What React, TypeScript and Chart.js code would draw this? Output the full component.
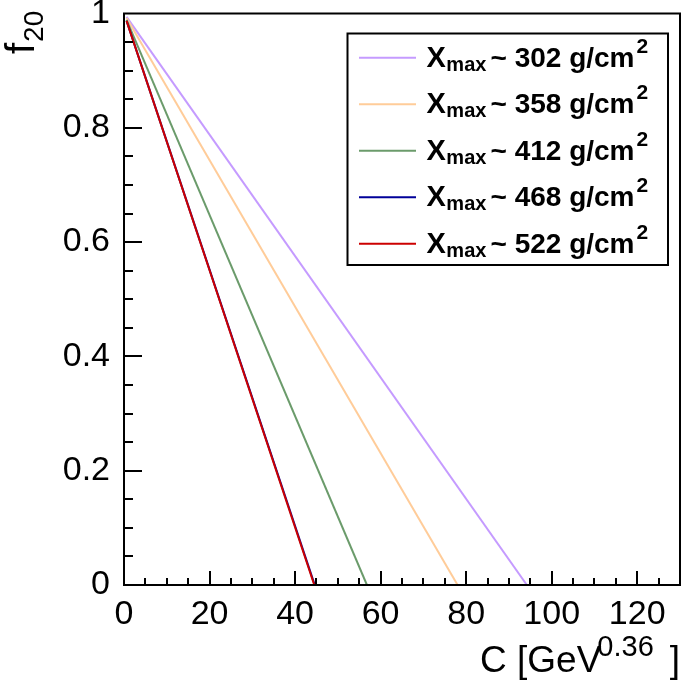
import { useEffect, useRef } from "react";
import { Chart, registerables } from "chart.js";

Chart.register(...registerables);

// ---- data ----
const xmaxLabels = ["302", "358", "412", "468", "522"];
const seriesColors = ["#c59bff", "#ffcc99", "#6b9b6b", "#000099", "#cc0000"];
const startC = [0.6, 0.6, 0.6, 0.6, 0.6];
const startF = [0.994, 0.992, 0.989, 0.987, 0.987];
const endC = [94.2, 78.0, 56.8, 44.6, 44.5];
const endF = [0, 0, 0, 0, 0];

const xMajorTicks = [0, 20, 40, 60, 80, 100, 120];
const xMinorStep = 5;
const yMajorTicks = [0, 0.2, 0.4, 0.6, 0.8, 1];
const yMinorStep = 0.05;
const xRange = [0, 130];
const yRange = [0, 1];

const FONT = "'Liberation Sans', Arial, Helvetica, sans-serif";

const decorPlugin = {
  id: "rootDecor",
  afterDraw(chart: any) {
    const ctx = chart.ctx as CanvasRenderingContext2D;
    const { left, right, top, bottom } = chart.chartArea;
    const xs = chart.scales.x;
    const ys = chart.scales.y;
    ctx.save();
    ctx.strokeStyle = "#000";
    ctx.fillStyle = "#000";
    ctx.lineWidth = 2;
    // frame
    ctx.strokeRect(left, top, right - left, bottom - top);
    // x ticks (inward)
    ctx.beginPath();
    for (let v = xRange[0]; v < xRange[1] - 1e-9; v += xMinorStep) {
      const isMajor = xMajorTicks.some((t) => Math.abs(t - v) < 1e-6);
      const px = Math.round(xs.getPixelForValue(v));
      const len = isMajor ? 14 : 7;
      ctx.moveTo(px, bottom);
      ctx.lineTo(px, bottom - len);
    }
    // y ticks (inward)
    for (let v = yRange[0]; v < yRange[1] - 1e-9; v += yMinorStep) {
      const isMajor = yMajorTicks.some((t) => Math.abs(t - v) < 1e-6);
      const py = Math.round(ys.getPixelForValue(v));
      const len = isMajor ? 18 : 9;
      ctx.moveTo(left, py);
      ctx.lineTo(left + len, py);
    }
    ctx.stroke();

    // x axis title: C [GeV^0.36]
    ctx.textBaseline = "alphabetic";
    ctx.textAlign = "left";
    ctx.font = `37px ${FONT}`;
    const t1 = "C [GeV";
    const x0 = 480;
    const yb = 672;
    ctx.fillText(t1, x0, yb);
    const w1 = ctx.measureText(t1).width;
    ctx.font = `29px ${FONT}`;
    const supX = x0 + w1 - 4;
    ctx.fillText("0.36", supX, 656);
    const wSup = ctx.measureText("0.36").width;
    ctx.font = `37px ${FONT}`;
    ctx.fillText("]", supX + wSup + 16, yb);

    // y axis title: f_20 (rotated)
    ctx.save();
    ctx.translate(34, 54);
    ctx.rotate(-Math.PI / 2);
    ctx.font = `40px ${FONT}`;
    ctx.fillText("f", 0, 0);
    const wf = ctx.measureText("f").width;
    ctx.font = `28px ${FONT}`;
    ctx.fillText("20", wf + 1, 9);
    ctx.restore();

    // legend
    const bx = 347.5, by = 33.5, bw = 320.5, bh = 231.5;
    ctx.fillStyle = "#fff";
    ctx.fillRect(bx, by, bw, bh);
    ctx.strokeStyle = "#000";
    ctx.lineWidth = 2;
    ctx.strokeRect(bx, by, bw, bh);
    for (let i = 0; i < xmaxLabels.length; i++) {
      const base = 66.7 + i * 46.5;
      ctx.strokeStyle = seriesColors[i];
      ctx.lineWidth = 2;
      ctx.beginPath();
      ctx.moveTo(359, base - 9);
      ctx.lineTo(416, base - 9);
      ctx.stroke();
      ctx.fillStyle = "#000";
      ctx.font = `bold 29px ${FONT}`;
      ctx.fillText("X", 426.5, base);
      const wx = ctx.measureText("X").width;
      ctx.font = `bold 20px ${FONT}`;
      ctx.fillText("max", 426.5 + wx + 0.5, base + 4);
      ctx.font = `bold 28px ${FONT}`;
      const txt = `~ ${xmaxLabels[i]} g/cm`;
      ctx.fillText(txt, 490.5, base);
      const wt = ctx.measureText(txt).width;
      ctx.font = `bold 21px ${FONT}`;
      ctx.fillText("2", 490.5 + wt + 2, base - 14);
    }
    ctx.restore();
  },
};

export default function App() {
  const ref = useRef<HTMLCanvasElement | null>(null);
  useEffect(() => {
    if (!ref.current) return;
    const datasets = xmaxLabels.map((lab, i) => ({
      label: lab,
      data: [
        { x: startC[i], y: startF[i] },
        { x: endC[i], y: endF[i] },
      ],
      showLine: true,
      borderColor: seriesColors[i],
      backgroundColor: seriesColors[i],
      borderWidth: 2,
      pointRadius: 0,
      order: xmaxLabels.length - 1 - i,
    }));
    const chart = new Chart(ref.current, {
      type: "scatter",
      data: { datasets },
      options: {
        animation: false,
        responsive: false,
        devicePixelRatio: 1,
        layout: { padding: { top: 13.5, right: 5, left: 0, bottom: 0 } },
        plugins: { legend: { display: false }, tooltip: { enabled: false } },
        scales: {
          x: {
            type: "linear",
            min: xRange[0],
            max: xRange[1],
            grid: { display: false, drawTicks: false },
            border: { display: false },
            afterBuildTicks: (s: any) => {
              s.ticks = xMajorTicks.map((v) => ({ value: v }));
            },
            ticks: {
              color: "#000",
              font: { family: FONT, size: 34 },
              padding: 9,
              maxRotation: 0,
              autoSkip: false,
              callback: (v: any) => String(v),
            },
            afterFit: (s: any) => {
              s.height = 106;
              s.paddingLeft = 0;
              s.paddingRight = 0;
            },
          },
          y: {
            type: "linear",
            min: yRange[0],
            max: yRange[1],
            grid: { display: false, drawTicks: false },
            border: { display: false },
            afterBuildTicks: (s: any) => {
              s.ticks = yMajorTicks.map((v) => ({ value: v }));
            },
            ticks: {
              color: "#000",
              font: { family: FONT, size: 34 },
              padding: 14,
              autoSkip: false,
              callback: (v: any) => String(Number(Number(v).toFixed(2))),
            },
            afterFit: (s: any) => {
              s.width = 124;
              s.paddingTop = 0;
              s.paddingBottom = 0;
            },
          },
        },
      },
      plugins: [decorPlugin],
    });
    return () => chart.destroy();
  }, []);
  return (
    <div style={{ position: "absolute", left: 0, top: 0, width: 685, height: 691, background: "#fff" }}>
      <canvas ref={ref} width={685} height={691} style={{ display: "block" }} />
    </div>
  );
}
